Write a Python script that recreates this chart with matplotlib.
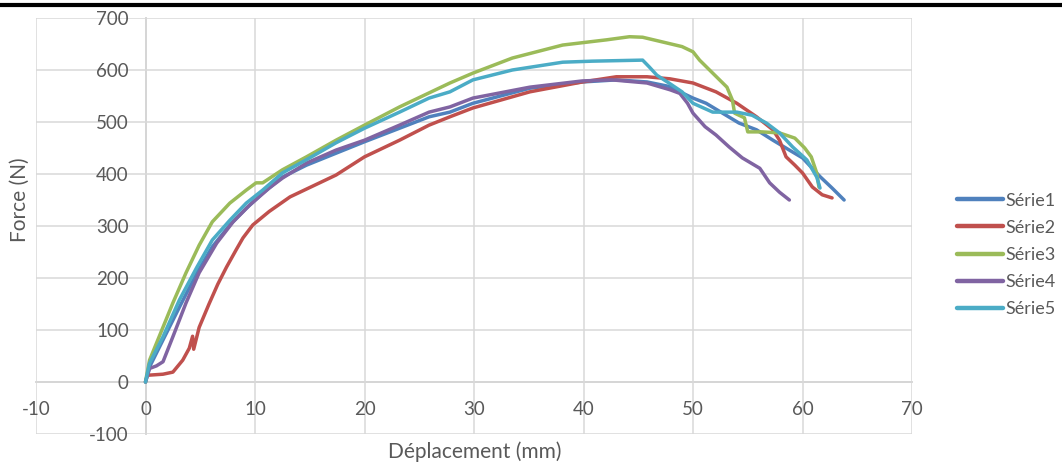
"""
Force / displacement curves for five test series (Série1..Série5)
"""

import matplotlib
matplotlib.use("Agg")
import matplotlib.pyplot as plt
from matplotlib import rc

rc('font', family=['Lato', 'DejaVu Sans'], size=13.5)
rc('axes', unicode_minus=False)

# data: displacement (mm) and force (N)
x1 = [0, 0.37, 1.6, 3.1, 4.7, 6.1, 7.7, 9.2, 10.7, 12.5, 14.7, 17.4, 20.0, 23.2, 25.9, 27.8,
      29.9, 35.1, 39.9, 43.0, 45.8, 47.9, 48.8, 50.0, 51.2, 52.7, 54.2, 55.8, 57.3, 58.8,
      60.0, 61.6, 62.7, 63.8]
y1 = [0, 29, 81, 144, 210, 260, 302, 334, 363, 394, 417, 440, 462, 488, 510, 519,
      536, 565, 577, 581, 577, 568, 558, 546, 536, 517, 498, 485, 465, 446,
      431, 395, 373, 350]

x2 = [0.1, 0.2, 1.6, 2.5, 3.4, 4.0, 4.3, 4.4, 4.9, 5.8, 6.6, 7.4, 8.3, 8.9, 9.8, 11.3,
      13.2, 14.1, 17.4, 20.0, 23.2, 25.9, 27.8, 29.9, 35.1, 39.9, 43.0, 45.8, 47.9, 50.0,
      52.1, 54.0, 55.8, 57.3, 57.9, 58.5, 59.3, 60.0, 60.9, 61.8, 62.7]
y2 = [12, 13, 15, 19, 42, 65, 88, 63, 105, 150, 188, 221, 255, 277, 302, 328,
      356, 365, 398, 433, 465, 494, 510, 527, 558, 577, 587, 587, 583, 575,
      558, 536, 510, 485, 465, 433, 417, 402, 375, 360, 354]

x3 = [0, 0.37, 1.3, 2.5, 3.7, 4.9, 6.1, 7.7, 9.2, 10.1, 10.7, 12.5, 14.7, 17.4, 20.0, 23.2,
      25.9, 27.8, 29.9, 33.5, 38.1, 42.1, 44.2, 45.4, 47.2, 49.0, 50.0, 50.6, 51.8, 53.1,
      53.6, 53.8, 54.7, 55.0, 56.3, 57.9, 59.3, 60.2, 60.8, 61.3, 61.5]
y3 = [0, 42, 90, 152, 210, 263, 308, 344, 369, 383, 383, 408, 433, 465, 494, 529,
      556, 575, 594, 623, 648, 658, 664, 663, 654, 645, 635, 619, 594, 567,
      542, 517, 508, 481, 481, 479, 469, 450, 433, 402, 375]

x4 = [0, 0.37, 1.0, 1.6, 2.5, 3.7, 4.9, 6.5, 8.0, 9.5, 11.3, 12.5, 14.7, 17.4, 20.0, 23.2,
      25.9, 27.8, 29.9, 35.1, 39.9, 42.6, 45.8, 47.9, 48.8, 49.5, 50.0, 51.1, 52.1, 53.3,
      54.5, 56.1, 57.0, 57.9, 58.8]
y4 = [0, 26, 31, 39, 87, 152, 210, 267, 308, 340, 373, 392, 421, 446, 465, 494,
      519, 529, 546, 567, 579, 581, 575, 562, 555, 536, 517, 491, 475, 452,
      431, 411, 383, 365, 350]

x5 = [0, 0.37, 1.6, 3.1, 4.7, 6.1, 7.7, 9.2, 10.7, 12.5, 15.0, 17.4, 20.0, 23.2, 25.9, 27.8,
      29.9, 33.5, 38.1, 40.8, 45.4, 46.0, 46.7, 47.8, 49.0, 50.0, 51.8, 54.0, 55.4, 56.7,
      57.9, 59.1, 60.4, 61.3, 61.6]
y5 = [0, 36, 87, 158, 221, 273, 311, 344, 369, 402, 431, 460, 488, 519, 546, 558,
      581, 600, 615, 617, 619, 606, 590, 575, 558, 536, 519, 519, 513, 498,
      479, 452, 427, 394, 373]

labels = ['Série1', 'Série2', 'Série3', 'Série4', 'Série5']
colours = ['#4F81BD', '#C0504D', '#9BBB59', '#8064A2', '#4BACC6']

W, H = 1062, 463
fig = plt.figure(figsize=(W / 100, H / 100), dpi=100)
ax = fig.add_axes([36 / W, 1 - 434 / H, (912 - 36) / W, (434 - 18) / H])

for xs, ys, lab, c in zip([x1, x2, x3, x4, x5], [y1, y2, y3, y4, y5], labels, colours):
    ax.plot(xs, ys, color=c, lw=2.5, label=lab, solid_capstyle='round',
            solid_joinstyle='round')

ax.set_xlim(-10, 70)
ax.set_ylim(-100, 700)
ax.set_xticks(range(-10, 71, 10))
ax.set_yticks(range(-100, 701, 100))

# light grid, axes crossing at zero like the spreadsheet chart
ax.grid(True, color='#D9D9D9', lw=1.1)
ax.set_axisbelow(True)
for gl in ax.get_xgridlines() + ax.get_ygridlines():
    gl.set_clip_on(False)
for s in ['top', 'right']:
    ax.spines[s].set_visible(False)
ax.spines['left'].set_position(('data', 0))
ax.spines['bottom'].set_position(('data', 0))
for s in ['left', 'bottom']:
    ax.spines[s].set_color('#BFBFBF')
    ax.spines[s].set_linewidth(1.1)
    ax.spines[s].set_zorder(0.5)
ax.tick_params(axis='x', length=0, pad=14, colors='#595959')
ax.tick_params(axis='y', length=0, pad=12, colors='#595959')

fig.text(20 / W, 1 - 200 / H, 'Force (N)', rotation=90, ha='center', va='center',
         color='#595959', fontsize=15)
fig.text(475 / W, 1 - 452 / H, 'Déplacement (mm)', ha='center', va='center',
         color='#595959', fontsize=15)

leg = fig.legend(loc='center left', bbox_to_anchor=(957 / W, 1 - 255 / H), frameon=False,
                 fontsize=13, handlelength=2.55, handletextpad=0.12, labelspacing=0.62,
                 borderpad=0, borderaxespad=0)
for t in leg.get_texts():
    t.set_color('#595959')
for h in leg.get_lines():
    h.set_linewidth(3.2)

# black rule across the top of the image
fig.add_artist(plt.Line2D([0, 1], [1 - 5 / H, 1 - 5 / H], color='black', lw=3,
                          transform=fig.transFigure))

fig.savefig("out.png", dpi=100)
